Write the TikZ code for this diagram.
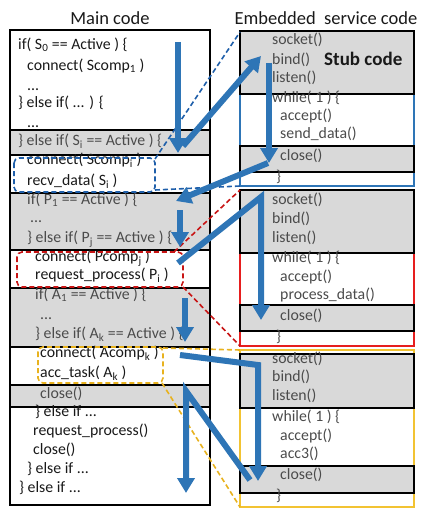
\documentclass[tikz,border=0pt]{standalone}
\usepackage{fontspec}
\setmainfont{Carlito}
\usetikzlibrary{arrows.meta}
\definecolor{arrblue}{RGB}{46,117,182}
\definecolor{dblue}{RGB}{31,95,170}
\definecolor{dred}{RGB}{200,20,20}
\definecolor{bred}{RGB}{230,30,30}
\definecolor{dyel}{RGB}{232,178,30}
\definecolor{byel}{RGB}{242,195,50}
\definecolor{bandgray}{RGB}{217,217,217}
\definecolor{txt}{RGB}{25,25,25}
\definecolor{gtxt}{RGB}{75,75,75}
\begin{document}
\begin{tikzpicture}[x=1pt,y=-1pt,
 code/.style={anchor=mid west,inner sep=0pt,font=\fontsize{15.8}{18}\selectfont,text=txt},
 gcode/.style={code,text=gtxt},
 title/.style={inner sep=0pt,font=\fontsize{18.5}{22}\selectfont,text=txt},
 band/.style={fill=bandgray,draw=black,line width=2pt},
 frame/.style={draw=black,line width=2pt},
 svcbox/.style={line width=2pt},
 flow/.style={draw=arrblue,line width=6pt,-{Triangle[length=15pt,width=17pt]}},
 callout/.style={line width=1.6pt,dash pattern=on 5pt off 3pt},
]
\useasboundingbox (0,0) rectangle (423,516);
% titles
\node[title] (tmain) at (110,18) {Main code};
\node[title] (tsvc) at (326,18) {Embedded\ \ service code};
% left column
\path[band] (10,130) rectangle (210,155);
\path[band] (10,193) rectangle (210,250);
\path[band] (10,288) rectangle (210,347);
\path[band] (10,385) rectangle (210,407);
\draw[frame] (10,30) rectangle (210,505);
% right boxes
\draw[svcbox,draw=arrblue] (240,31) rectangle (414,186);
\path[band] (240,31) rectangle (414,94);
\path[band] (240,146) rectangle (414,172);
\draw[svcbox,draw=bred] (240,190) rectangle (414,346);
\path[band] (240,190) rectangle (414,253);
\path[band] (240,305) rectangle (414,331);
\draw[svcbox,draw=byel] (240,350) rectangle (414,507);
\path[band] (240,354) rectangle (414,408);
\path[band] (240,466) rectangle (414,493);
% left code text
\node[code] (m1) at (18,47) {if( S\textsubscript{0} == Active ) \{};
\node[code] (m2) at (27,68) {connect( Scomp\textsubscript{1} )};
\node[code] (m3) at (27,88) {...};
\node[code] (m4) at (18,105) {\} else if( ... ) \{};
\node[code] (m5) at (27,125) {...};
\node[gcode] (m6) at (18,143) {\} else if( S\textsubscript{i} == Active ) \{};
\node[code] (m7) at (27,162) {connect( Scomp\textsubscript{i} )};
\node[code] (m8) at (27,183) {recv\_data( S\textsubscript{i} )};
\node[gcode] (m9) at (27,202) {if( P\textsubscript{1} == Active ) \{};
\node[gcode] (m10) at (30,220) {...};
\node[gcode] (m11) at (27,240) {\} else if( P\textsubscript{j} == Active ) \{};
\node[code] (m12) at (35,259) {connect( Pcomp\textsubscript{j} )};
\node[code] (m13) at (35,277) {request\_process( P\textsubscript{i} )};
\node[gcode] (m14) at (35,297) {if( A\textsubscript{1} == Active ) \{};
\node[gcode] (m15) at (40,317) {...};
\node[gcode] (m16) at (35,336) {\} else if( A\textsubscript{k} == Active ) \{};
\node[code] (m17) at (40,355) {connect( Acomp\textsubscript{k} )};
\node[code] (m18) at (40,375) {acc\_task( A\textsubscript{k} )};
\node[gcode] (m19) at (40,396) {close()};
\node[code] (m20) at (35,414) {\} else if ...};
\node[code] (m21) at (33,433) {request\_process()};
\node[code] (m22) at (33,452) {close()};
\node[code] (m23) at (27,471) {\} else if ...};
\node[code] (m24) at (19,490) {\} else if ...};
% right code text
\node[gcode] (a1) at (272,42) {socket()};
\node[gcode] (a2) at (272,62) {bind()};
\node[gcode] (a3) at (272,80) {listen()};
\node[gcode] (a4) at (272,100) {while( 1 ) \{};
\node[gcode] (a5) at (280,118) {accept()};
\node[gcode] (a6) at (280,136) {send\_data()};
\node[gcode] (a7) at (280,158) {close()};
\node[gcode] (a8) at (276,179) {\}};
\node[anchor=mid west,inner sep=0pt,font=\fontsize{19}{22}\selectfont\bfseries,text=txt] (stub) at (324,63) {Stub code};
\node[gcode] (b1) at (272,202) {socket()};
\node[gcode] (b2) at (272,221) {bind()};
\node[gcode] (b3) at (272,240) {listen()};
\node[gcode] (b4) at (272,260) {while( 1 ) \{};
\node[gcode] (b5) at (280,279) {accept()};
\node[gcode] (b6) at (280,297) {process\_data()};
\node[gcode] (b7) at (280,318) {close()};
\node[gcode] (b8) at (276,339) {\}};
\node[gcode] (c1) at (272,361) {socket()};
\node[gcode] (c2) at (272,379) {bind()};
\node[gcode] (c3) at (272,398) {listen()};
\node[gcode] (c4) at (272,419) {while( 1 ) \{};
\node[gcode] (c5) at (280,438) {accept()};
\node[gcode] (c6) at (280,456) {acc3()};
\node[gcode] (c7) at (280,477) {close()};
\node[gcode] (c8) at (276,498) {\}};
% callouts
\draw[callout,draw=dblue,rounded corners=5pt] (14,158) rectangle (155,192);
\coordinate (bs1) at (155,159);
\coordinate (bs2) at (155,190);
\coordinate (bt1) at (240,32);
\coordinate (bt2) at (240,186);
\draw[callout,draw=dblue] (bs1) -- (bt1);
\draw[callout,draw=dblue] (bs2) -- (bt2);
\draw[callout,draw=dred,rounded corners=5pt] (17,252) rectangle (183,287);
\coordinate (rs1) at (174,252);
\coordinate (rs2) at (183,287);
\coordinate (rt1) at (240,190);
\coordinate (rt2) at (240,346);
\draw[callout,draw=dred] (rs1) -- (rt1);
\draw[callout,draw=dred] (rs2) -- (rt2);
\draw[callout,draw=dyel,rounded corners=5pt] (38,347) rectangle (163,383);
\coordinate (ys1) at (163,348);
\coordinate (ys2) at (162,383);
\coordinate (yt1) at (240,350);
\coordinate (yt2) at (240,507);
\draw[callout,draw=dyel] (ys1) -- (yt1);
\draw[callout,draw=dyel] (ys2) -- (yt2);
% flow arrows
\coordinate (f1a) at (178,42);  \coordinate (f1b) at (178,153);
\coordinate (f2a) at (183,146); \coordinate (f2b) at (261,56);
\coordinate (f3a) at (269,63);  \coordinate (f3b) at (269,163);
\coordinate (f4a) at (268,163); \coordinate (f4b) at (176,201);
\coordinate (f5a) at (180,210); \coordinate (f5b) at (180,247);
\coordinate (f6a) at (178,263); \coordinate (f6c) at (261,197); \coordinate (f6b) at (261,320);
\coordinate (f7a) at (185,298); \coordinate (f7b) at (185,342);
\coordinate (f8a) at (180,355); \coordinate (f8c) at (258,365); \coordinate (f8b) at (258,481);
\coordinate (f9a) at (250,480); \coordinate (f9c) at (186,391); \coordinate (f9b) at (186,493);
\draw[flow] (f1a) -- (f1b);
\draw[flow] (f2a) -- (f2b);
\draw[flow] (f3a) -- (f3b);
\draw[flow] (f4a) -- (f4b);
\draw[flow] (f5a) -- (f5b);
\draw[flow] (f6a) -- (f6c) -- (f6b);
\draw[flow] (f7a) -- (f7b);
\draw[flow] (f8a) -- (f8c) -- (f8b);
\draw[flow] (f9a) -- (f9c) -- (f9b);
\end{tikzpicture}
\end{document}
